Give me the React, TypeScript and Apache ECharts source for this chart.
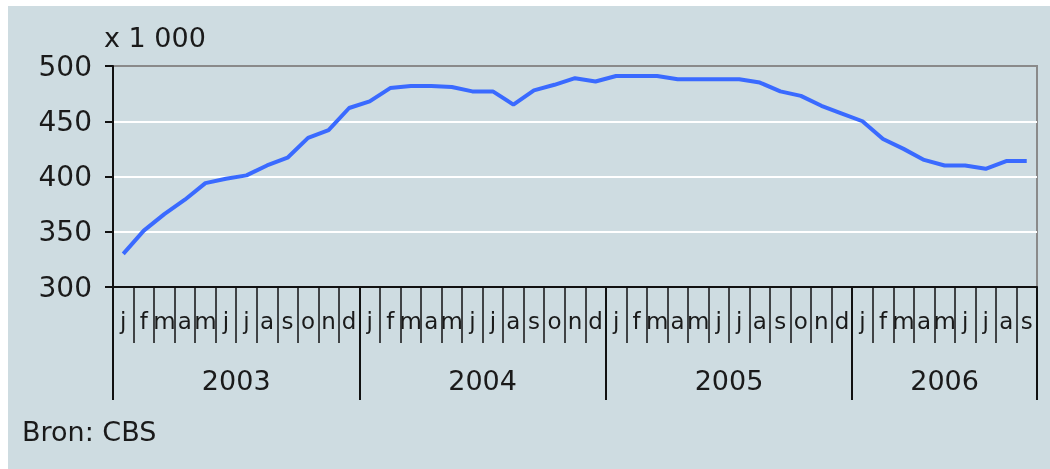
import React, { useEffect, useRef } from 'react';
import * as echarts from 'echarts';

const years = ['2003', '2004', '2005', '2006'];
const monthsPerYear = [12, 12, 12, 9];
const monthLetters = ['j', 'f', 'm', 'a', 'm', 'j', 'j', 'a', 's', 'o', 'n', 'd'];
const values = [
  330, 351, 366, 379, 394, 398, 401, 410, 417, 435, 442, 462,
  468, 480, 482, 482, 481, 477, 477, 465, 478, 483, 489, 486,
  491, 491, 491, 488, 488, 488, 488, 485, 477, 473, 464, 457,
  450, 434, 425, 415, 410, 410, 407, 414, 414,
];
const yTicks = [300, 350, 400, 450, 500];

const categories: string[] = [];
const yearBounds: number[] = [0];
const yearMids: number[] = [];
monthsPerYear.forEach((n) => {
  for (let m = 0; m < n; m++) categories.push(monthLetters[m]);
  const start = yearBounds[yearBounds.length - 1];
  yearBounds.push(start + n);
  yearMids.push(start + n / 2);
});
const totalMonths = categories.length;

const FONT = '"DejaVu Sans", Verdana, sans-serif';
const TEXT = '#1a1a1a';

export default function App() {
  const ref = useRef<HTMLDivElement>(null);
  useEffect(() => {
    if (!ref.current) return;
    const chart = echarts.init(ref.current, null, { renderer: 'svg' });
    chart.setOption({
      animation: false,
      backgroundColor: 'transparent',
      textStyle: { fontFamily: FONT },
      graphic: [
        {
          type: 'rect',
          left: 8,
          top: 6,
          shape: { width: 1042, height: 463 },
          style: { fill: '#cedce1' },
          z: -10,
          silent: true,
        },
        {
          type: 'text',
          left: 104,
          top: 24,
          style: { text: 'x 1 000', fill: TEXT, font: `27px ${FONT}` },
        },
        {
          type: 'text',
          left: 22,
          top: 418,
          style: { text: 'Bron: CBS', fill: TEXT, font: `27px ${FONT}` },
        },
      ],
      grid: {
        left: 113,
        top: 66,
        right: 13,
        bottom: 182,
        show: true,
        borderColor: '#8a8a8a',
        borderWidth: 2,
        backgroundColor: 'transparent',
      },
      xAxis: [
        {
          type: 'category',
          data: categories,
          boundaryGap: true,
          position: 'bottom',
          axisLine: { show: true, onZero: false, lineStyle: { color: '#111', width: 2 } },
          axisTick: { show: true, interval: 0, length: 56, lineStyle: { color: '#111', width: 1.5 } },
          axisLabel: {
            interval: 0,
            margin: 22,
            fontSize: 23,
            color: TEXT,
            fontFamily: FONT,
          },
          splitLine: { show: false },
        },
        {
          type: 'value',
          min: 0,
          max: totalMonths,
          position: 'bottom',
          axisLine: { show: false, onZero: false },
          axisTick: {
            show: true,
            customValues: yearBounds,
            length: 113,
            lineStyle: { color: '#111', width: 2 },
          },
          axisLabel: {
            show: true,
            customValues: yearMids,
            margin: 80,
            fontSize: 27,
            color: TEXT,
            fontFamily: FONT,
            formatter: (v: number) => {
              const idx = yearMids.findIndex((m) => Math.abs(m - v) < 0.01);
              return idx >= 0 ? years[idx] : '';
            },
          },
          splitLine: { show: false },
        },
      ],
      yAxis: {
        type: 'value',
        min: yTicks[0],
        max: yTicks[yTicks.length - 1],
        interval: 50,
        axisLine: { show: true, onZero: false, lineStyle: { color: '#111', width: 2 } },
        axisTick: { show: true, length: 8, lineStyle: { color: '#111', width: 2 } },
        axisLabel: { margin: 21, fontSize: 28, color: TEXT, fontFamily: FONT },
        splitLine: {
          show: true,
          showMinLine: false,
          showMaxLine: false,
          lineStyle: { color: '#ffffff', width: 2 },
        },
      },
      series: [
        {
          type: 'line',
          xAxisIndex: 0,
          data: values,
          showSymbol: false,
          symbol: 'none',
          lineStyle: { color: '#3a6aff', width: 4 },
        },
      ],
    });
    return () => chart.dispose();
  }, []);
  return (
    <div
      ref={ref}
      style={{ position: 'fixed', left: 0, top: 0, width: 1050, height: 469 }}
    />
  );
}
